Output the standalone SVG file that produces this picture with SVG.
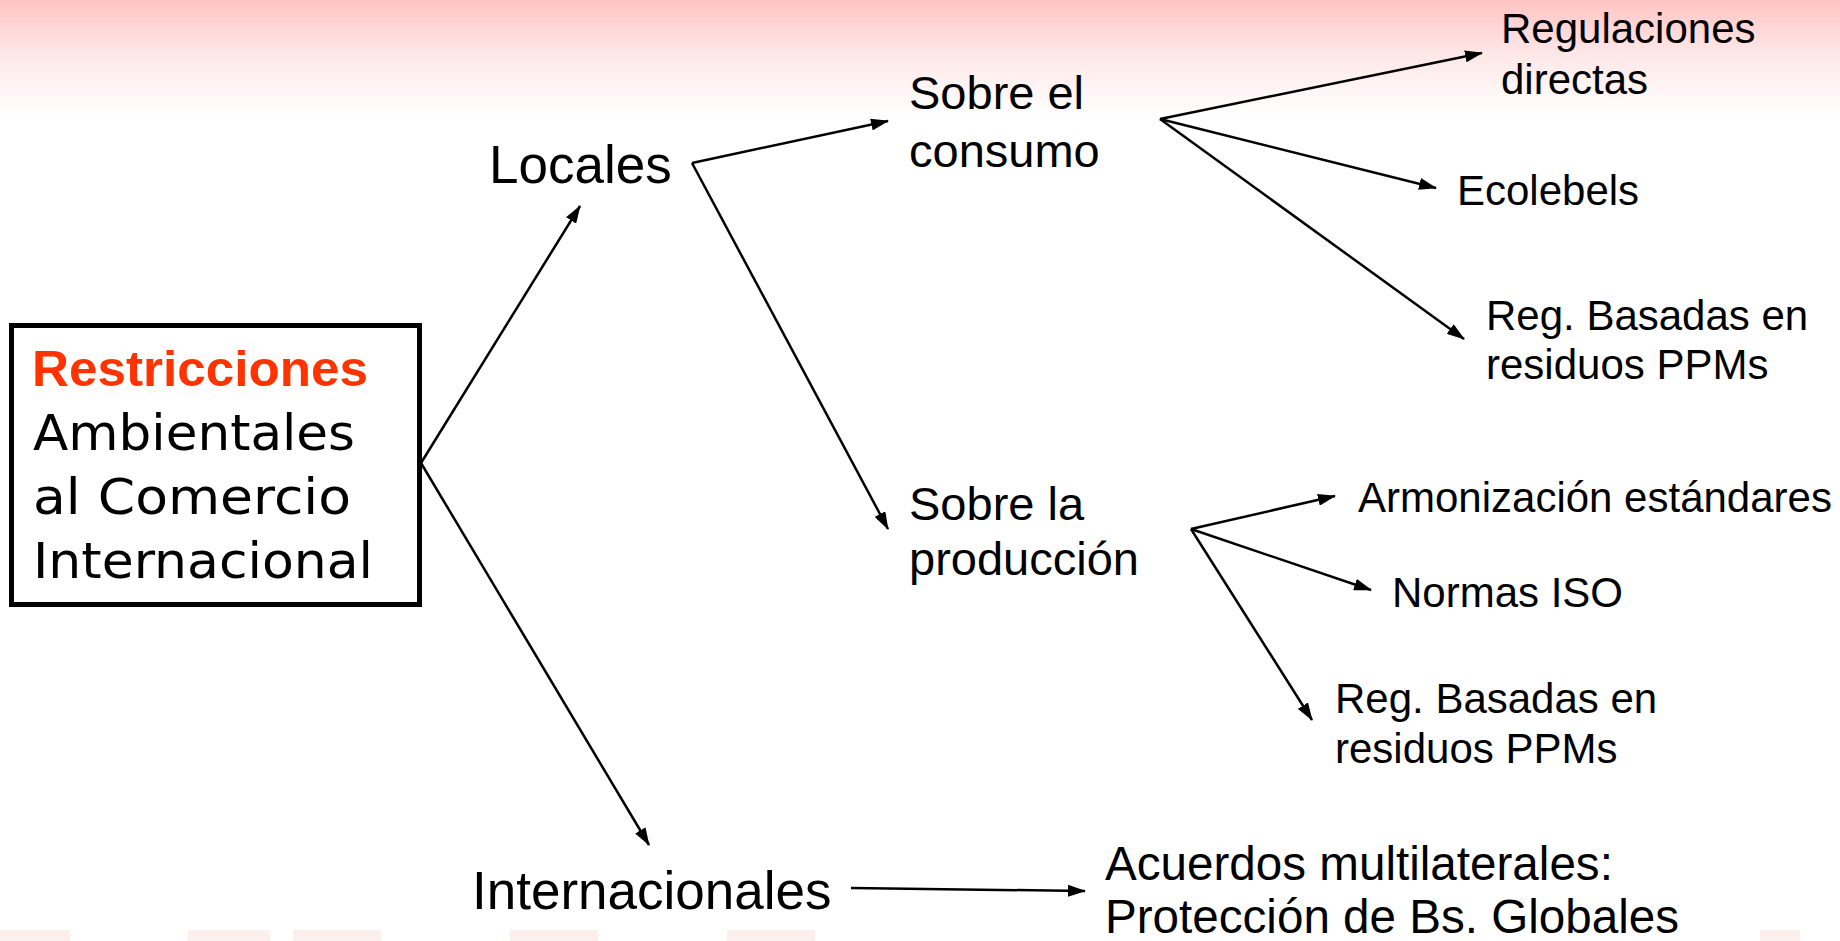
<svg xmlns="http://www.w3.org/2000/svg" width="1840" height="941" viewBox="0 0 1840 941">
  <defs>
    <linearGradient id="topg" x1="0" y1="0" x2="0" y2="1">
      <stop offset="0" stop-color="#FFC4C4"/>
      <stop offset="0.45" stop-color="#FFE6E6"/>
      <stop offset="1" stop-color="#FFFFFF"/>
    </linearGradient>
    <marker id="ah" viewBox="0 0 18 12" refX="17" refY="6" markerWidth="18" markerHeight="12" markerUnits="userSpaceOnUse" orient="auto">
      <path d="M0,0 L18,6 L0,12 z" fill="#000"/>
    </marker>
    <style>
      .t { font-family: "Liberation Sans", Arial, sans-serif; fill: #000; }
      .c { font-family: "DejaVu Sans", sans-serif; font-size: 50px; fill: #000; }
      .conn line, .conn polyline { stroke: #000; stroke-width: 2.5; fill: none; }
      .blk { fill: #F2C8C0; opacity: 0.28; }
    </style>
  </defs>

  <rect x="0" y="0" width="1840" height="941" fill="#FFFFFF"/>
  <rect x="0" y="0" width="1840" height="115" fill="url(#topg)"/>
  <g id="bottom-strip">
    <rect class="blk" x="0" y="930" width="70" height="11"/>
    <rect class="blk" x="188" y="930" width="82" height="11"/>
    <rect class="blk" x="293" y="930" width="88" height="11"/>
    <rect class="blk" x="510" y="930" width="88" height="11"/>
    <rect class="blk" x="727" y="930" width="88" height="11"/>
    <rect class="blk" x="1760" y="930" width="40" height="11"/>
  </g>

  <g class="conn" id="connectors">
    <line x1="421" y1="463" x2="580" y2="206" marker-end="url(#ah)"/>
    <line x1="421" y1="463" x2="649" y2="845" marker-end="url(#ah)"/>
    <line x1="692" y1="163" x2="888" y2="121" marker-end="url(#ah)"/>
    <line x1="692" y1="163" x2="888" y2="529" marker-end="url(#ah)"/>
    <line x1="1160" y1="119" x2="1482" y2="53" marker-end="url(#ah)"/>
    <line x1="1160" y1="119" x2="1436" y2="188" marker-end="url(#ah)"/>
    <line x1="1160" y1="119" x2="1464" y2="339" marker-end="url(#ah)"/>
    <line x1="1191" y1="529" x2="1335" y2="496" marker-end="url(#ah)"/>
    <line x1="1191" y1="529" x2="1371" y2="590" marker-end="url(#ah)"/>
    <line x1="1191" y1="529" x2="1312" y2="720" marker-end="url(#ah)"/>
    <line x1="851" y1="888" x2="1085" y2="891" marker-end="url(#ah)"/>
  </g>

  <g id="root">
    <rect x="11.5" y="325.5" width="408" height="279" fill="#FFFFFF" stroke="#000" stroke-width="5"/>
    <text x="32" y="386" font-family="Liberation Sans, Arial, sans-serif" font-weight="bold" font-size="50" fill="#FF3300" textLength="336" lengthAdjust="spacingAndGlyphs">Restricciones</text>
    <text class="c" x="33" y="450" textLength="322" lengthAdjust="spacingAndGlyphs">Ambientales</text>
    <text class="c" x="33" y="514" textLength="318" lengthAdjust="spacingAndGlyphs">al Comercio</text>
    <text class="c" x="33" y="578" textLength="340" lengthAdjust="spacingAndGlyphs">Internacional</text>
  </g>

  <g id="locales">
    <text class="t" x="489" y="183" font-size="53">Locales</text>
  </g>
  <g id="internacionales">
    <text class="t" x="472" y="909" font-size="53">Internacionales</text>
  </g>
  <g id="sobre-consumo">
    <text class="t" x="909" y="109" font-size="47">Sobre el</text>
    <text class="t" x="909" y="167" font-size="47">consumo</text>
  </g>
  <g id="sobre-produccion">
    <text class="t" x="909" y="520" font-size="47">Sobre la</text>
    <text class="t" x="909" y="575" font-size="47">producción</text>
  </g>
  <g id="regulaciones">
    <text class="t" x="1501" y="43" font-size="42">Regulaciones</text>
    <text class="t" x="1501" y="94" font-size="42">directas</text>
  </g>
  <g id="ecolebels">
    <text class="t" x="1457" y="205" font-size="42">Ecolebels</text>
  </g>
  <g id="reg-basadas-1">
    <text class="t" x="1486" y="330" font-size="42">Reg. Basadas en</text>
    <text class="t" x="1486" y="379" font-size="42">residuos PPMs</text>
  </g>
  <g id="armonizacion">
    <text class="t" x="1358" y="512" font-size="42">Armonización estándares</text>
  </g>
  <g id="normas-iso">
    <text class="t" x="1392" y="607" font-size="42">Normas ISO</text>
  </g>
  <g id="reg-basadas-2">
    <text class="t" x="1335" y="713" font-size="42">Reg. Basadas en</text>
    <text class="t" x="1335" y="763" font-size="42">residuos PPMs</text>
  </g>
  <g id="acuerdos">
    <text class="t" x="1105" y="880" font-size="47.6">Acuerdos multilaterales:</text>
    <text class="t" x="1105" y="933" font-size="47.6">Protección de Bs. Globales</text>
  </g>
</svg>
